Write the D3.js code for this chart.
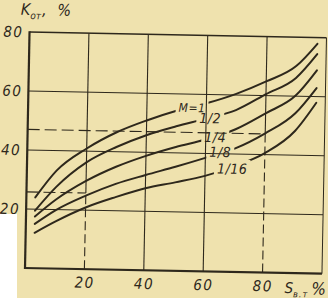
<!DOCTYPE html>
<html><head><meta charset="utf-8">
<script src="https://cdn.jsdelivr.net/npm/d3@7"></script>
<style>
html,body{margin:0;padding:0;background:#efe2ae;}
svg{display:block;}
text{font-family:"Liberation Sans Narrow","DejaVu Sans Condensed","Liberation Sans",sans-serif;font-style:italic;fill:#2e281c;}
</style></head>
<body>
<script>
// ---- data ----
const sValues = [3, 10, 20, 30, 40, 50, 60, 70, 80, 90, 97];
const seriesNames = ["M=1", "1/2", "1/4", "1/8", "1/16"];
const kM1   = [24, 33.2, 40.9, 46.6, 50.8, 54.3, 57, 60.4, 64.8, 70.2, 77.9];
const kM2   = [19.5, 27.7, 36.2, 41.6, 45.8, 49, 51.8, 54.9, 60.5, 66.2, 74.4];
const kM4   = [17.5, 23.4, 29.9, 34.9, 38.8, 42, 44.7, 48.4, 54, 60.2, 68.9];
const kM8   = [15, 19.8, 24.9, 29.1, 32.3, 35.3, 38.5, 41.9, 47.2, 54.2, 62.9];
const kM16  = [12, 16, 20.9, 24.6, 27.8, 30, 32.4, 35.9, 40.5, 48.2, 57.9];
const xTickValues = [20, 40, 60, 80];
const yTickValues = [20, 40, 60, 80];
const refS = [20, 80];        // reference S values
const refK = [25.8, 47];      // reference K values
const yTitle = ["K", "от", ", %"];
const xTitle = ["S", "в.т", "%"];

// ---- layout (not data) ----
const W = 328, H = 298;
const labelAt = [[55.2, 55.3], [61.4, 52], [63.2, 45.6], [65, 40.6], [69.1, 35]];
const ink = "#2e281c";
const tilt = 1.1; // scan rotation, degrees

const x = d3.scaleLinear().domain([0, 100]).range([25, 322]);
const y = d3.scaleLinear().domain([0, 80]).range([268, 32]);

const svg = d3.select("body").append("svg").attr("width", W).attr("height", H);
svg.append("rect").attr("width", W).attr("height", H).attr("fill", "#efe2ae");

const root = svg.append("g").attr("transform", `rotate(${tilt},${x(0)},${y(0)})`);

const grid = root.append("g").attr("stroke", ink).attr("fill", "none");
[20, 40, 60].forEach(v => {
  grid.append("line").attr("x1", x(0)).attr("x2", x(100)).attr("y1", y(v)).attr("y2", y(v)).attr("stroke-width", 1.1);
});
xTickValues.forEach(s => {
  const i = refS.indexOf(s);
  if (i < 0) {
    grid.append("line").attr("x1", x(s)).attr("x2", x(s)).attr("y1", y(0)).attr("y2", y(80)).attr("stroke-width", 1.1);
  } else {
    grid.append("line").attr("x1", x(s)).attr("x2", x(s)).attr("y1", y(refK[i])).attr("y2", y(80)).attr("stroke-width", 1.1);
    grid.append("line").attr("x1", x(s)).attr("x2", x(s)).attr("y1", y(0)).attr("y2", y(refK[i]))
      .attr("stroke-width", 1.1).attr("stroke-dasharray", "9,4");
  }
});
refS.forEach((s, i) => {
  grid.append("line").attr("x1", x(0)).attr("x2", x(s)).attr("y1", y(refK[i])).attr("y2", y(refK[i]))
    .attr("stroke-width", 1.1).attr("stroke-dasharray", "12,5");
});

// frame
grid.append("line").attr("x1", x(0)).attr("x2", x(100)).attr("y1", y(80)).attr("y2", y(80)).attr("stroke-width", 1.5);
grid.append("line").attr("x1", x(100)).attr("x2", x(100)).attr("y1", y(80)).attr("y2", y(0)).attr("stroke-width", 1);
grid.append("line").attr("x1", x(0)).attr("x2", x(0)).attr("y1", y(80) - 0.7).attr("y2", y(0) + 1).attr("stroke-width", 2.2);
grid.append("line").attr("x1", x(0) - 1).attr("x2", x(100)).attr("y1", y(0)).attr("y2", y(0)).attr("stroke-width", 2.2);

// axes tick labels
const tickFont = "'Liberation Sans Narrow','DejaVu Sans Condensed',sans-serif";
const yAxis = root.append("g").attr("transform", `translate(${x(0) - 6},0)`)
  .call(d3.axisLeft(y).tickValues(yTickValues).tickSize(0).tickPadding(0).tickFormat(d3.format("d")));
yAxis.select(".domain").remove();
yAxis.selectAll("text").attr("font-size", 15).attr("letter-spacing", 1.5).attr("font-family", tickFont).attr("fill", ink);

const xAxis = root.append("g").attr("transform", `translate(0,${y(0) + 8})`)
  .call(d3.axisBottom(x).tickValues(xTickValues).tickSize(0).tickPadding(0).tickFormat(d3.format("d")));
xAxis.select(".domain").remove();
xAxis.selectAll("text").attr("font-size", 15).attr("letter-spacing", 1.5).attr("font-family", tickFont).attr("fill", ink);

// axis titles
const yt = root.append("text").attr("x", 16).attr("y", 15).attr("font-size", 16);
yt.append("tspan").text(yTitle[0]);
yt.append("tspan").attr("font-size", 10).attr("dy", 4).text(yTitle[1]);
yt.append("tspan").attr("dy", -4).attr("dx", 1).attr("letter-spacing", 3).text(yTitle[2]);

const xt = root.append("text").attr("x", 285).attr("y", 288).attr("font-size", 15);
xt.append("tspan").text(xTitle[0]);
xt.append("tspan").attr("font-size", 9).attr("dy", 4).attr("letter-spacing", 1).text(xTitle[1]);
xt.append("tspan").attr("dy", -3).attr("dx", 3).attr("font-size", 17).text(xTitle[2]);

// curve labels
const series = [kM1, kM2, kM4, kM8, kM16];
const labels = root.append("g").selectAll("text").data(seriesNames).join("text")
  .attr("x", (d, i) => x(labelAt[i][0])).attr("y", (d, i) => y(labelAt[i][1]))
  .attr("text-anchor", "middle").attr("dominant-baseline", "central")
  .attr("font-size", (d, i) => i === 0 ? 12 : 14).attr("letter-spacing", 0.5)
  .text(d => d);

// mask holes around labels
const defs = svg.append("defs");
const mask = defs.append("mask").attr("id", "gaps").attr("maskUnits", "userSpaceOnUse")
  .attr("x", -20).attr("y", -20).attr("width", W + 40).attr("height", H + 40);
mask.append("rect").attr("x", -20).attr("y", -20).attr("width", W + 40).attr("height", H + 40).attr("fill", "white");
labels.each(function () {
  const b = this.getBBox();
  mask.append("rect").attr("x", b.x - 3).attr("y", b.y - 1).attr("width", b.width + 6).attr("height", b.height + 2).attr("fill", "black");
});

const line = d3.line().x((d, i) => x(sValues[i])).y(d => y(d)).curve(d3.curveMonotoneX);
root.append("g").attr("mask", "url(#gaps)").selectAll("path").data(series).join("path")
  .attr("d", line).attr("fill", "none").attr("stroke", ink).attr("stroke-width", 2).attr("stroke-linecap", "round");

// scan artefact: white patch bottom-left
svg.append("rect").attr("x", 0).attr("y", 214).attr("width", 17).attr("height", H - 214).attr("fill", "#ffffff");
</script>
</body></html>
